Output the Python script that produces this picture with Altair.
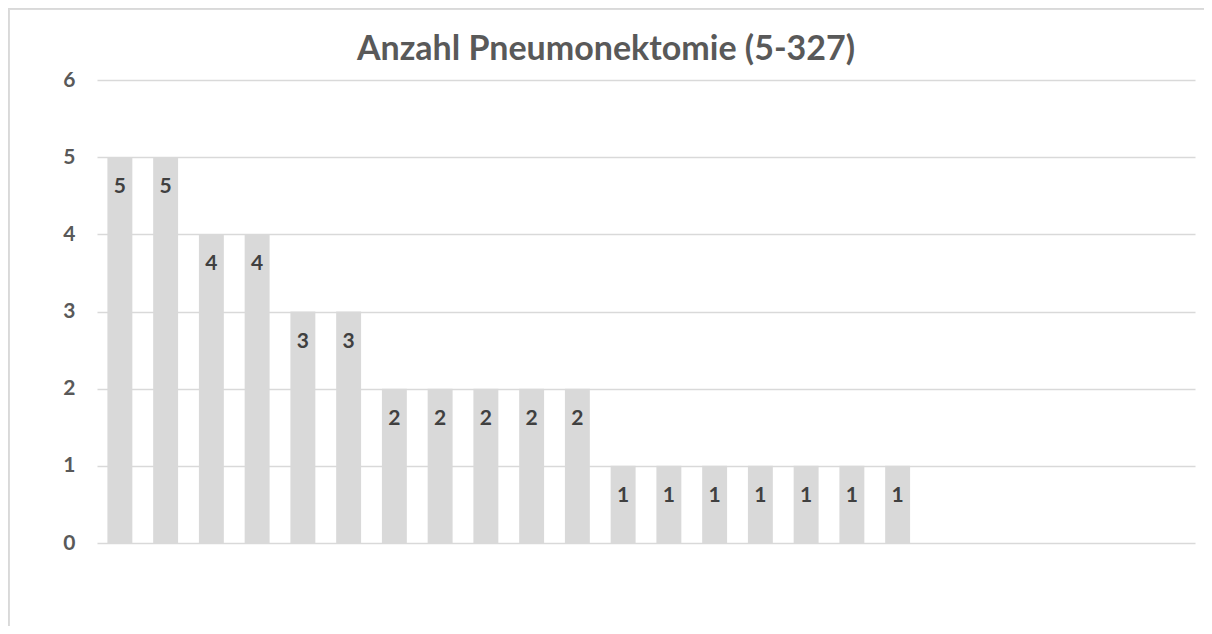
import altair as alt
import pandas as pd

categories = [str(i) for i in range(1, 25)]
values = [5, 5, 4, 4, 3, 3, 2, 2, 2, 2, 2, 1, 1, 1, 1, 1, 1, 1]
y_ticks = [0, 1, 2, 3, 4, 5, 6]
title_text = "Anzahl Pneumonektomie (5-327)"

df = pd.DataFrame({"cat": categories[:len(values)], "val": values})

FONT = "Lato"
x_enc = alt.X("cat:N", sort=categories,
              scale=alt.Scale(domain=categories, paddingInner=0.455, paddingOuter=0.2275),
              axis=None)

bars = alt.Chart(df).mark_bar(color="#d9d9d9").encode(
    x=x_enc,
    y=alt.Y("val:Q", scale=alt.Scale(domain=[0, 6], nice=False),
            axis=alt.Axis(values=y_ticks, format="d", title=None, domain=False, ticks=False,
                          grid=True, gridColor="#d9d9d9", gridWidth=1.3,
                          labelFont=FONT, labelFontSize=21, labelFontWeight="bold",
                          labelColor="#595959", labelPadding=22)),
)

labels = alt.Chart(df).mark_text(font=FONT, fontSize=21, fontWeight="bold",
                                 color="#404040", baseline="middle", dy=30).encode(
    x=x_enc,
    y=alt.Y("val:Q"),
    text=alt.Text("val:Q"),
)

border_v = alt.Chart(df).mark_rule(color="#d9d9d9", strokeWidth=1.5).encode(
    x=alt.value(-88.5), y=alt.value(-71.5), y2=alt.value(560))
border_h = alt.Chart(df).mark_rule(color="#d9d9d9", strokeWidth=1.5).encode(
    y=alt.value(-71.5), x=alt.value(-89), x2=alt.value(1130))

chart = alt.layer(border_v, border_h, bars, labels).properties(
    width=1098, height=463,
    autosize=alt.AutoSizeParams(type="none"),
    padding={"left": 89, "top": 72, "right": 9, "bottom": 83},
    title=alt.TitleParams(title_text, font=FONT, fontSize=34, fontWeight="bold",
                          color="#595959", anchor="middle", dx=-40, dy=86,
                          baseline="alphabetic", offset=0),
).configure_view(stroke=None)

chart.save("out.html", embed_options={"renderer": "svg", "actions": False})
